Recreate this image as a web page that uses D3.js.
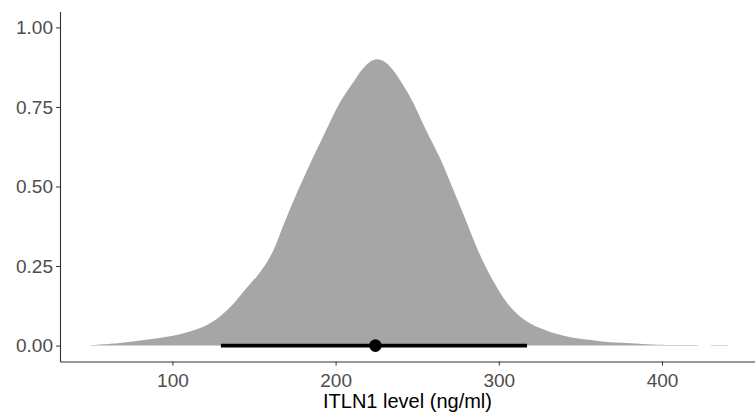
<!DOCTYPE html>
<html>
<head>
<meta charset="utf-8">
<script src="https://cdn.jsdelivr.net/npm/d3@7"></script>
<style>
  html, body { margin: 0; padding: 0; background: #fff; }
  svg { display: block; }
</style>
</head>
<body>
<svg id="chart" width="755" height="412"></svg>
<script>
// ---- data ----
const slabX = [49.4, 67.8, 86.2, 104.6, 116.9, 126.0, 135.2, 144.4, 153.6, 161.0, 168.9, 176.3, 184.2, 193.5, 202.7, 211.8, 216.0, 220.5, 225.3, 230.0, 234.5, 239.4, 247.4, 254.7, 263.9, 271.3, 279.3, 287.2, 295.8, 305.0, 314.2, 325.2, 340.5, 362.0, 386.5, 397.0, 422.0];
const slabY = [0.001, 0.008, 0.02, 0.036, 0.055, 0.08, 0.12, 0.175, 0.23, 0.29, 0.39, 0.48, 0.57, 0.67, 0.765, 0.835, 0.866, 0.89, 0.90, 0.892, 0.87, 0.835, 0.765, 0.685, 0.59, 0.50, 0.40, 0.30, 0.21, 0.135, 0.087, 0.055, 0.03, 0.014, 0.006, 0.003, 0.0015];
const tailX = [430.0, 440.5];
const tailY = [0.0015, 0.0015];
const pointEstimate = [224.4];
const intervalLow = [129.7];
const intervalHigh = [317.3];
const xTicks = [100, 200, 300, 400];
const yTicks = [0, 0.25, 0.5, 0.75, 1.0];
const xTitle = "ITLN1 level (ng/ml)";

// ---- layout ----
const svg = d3.select("#chart");
const mLeft = 60, mRight = 755, mTop = 11.5, mBottom = 361.5;

const x = d3.scaleLinear().domain([31.1, 457]).range([mLeft, mRight]);
const y = d3.scaleLinear().domain([-0.05, 1.05]).range([mBottom, mTop]);

const slabData = slabX.map((v, i) => [v, slabY[i]]);
const tailData = tailX.map((v, i) => [v, tailY[i]]);

const area = d3.area()
  .x(d => x(d[0]))
  .y0(y(0))
  .y1(d => y(d[1]))
  .curve(d3.curveCatmullRom.alpha(0.5));

svg.append("path").datum(slabData).attr("d", area).attr("fill", "#a6a6a6");
svg.append("path").datum(tailData).attr("d", area).attr("fill", "#a6a6a6");

// interval
svg.append("line")
  .attr("x1", x(intervalLow[0])).attr("x2", x(intervalHigh[0]))
  .attr("y1", y(0)).attr("y2", y(0))
  .attr("stroke", "#000").attr("stroke-width", 3.6);
svg.append("circle")
  .attr("cx", x(pointEstimate[0])).attr("cy", y(0)).attr("r", 6.3)
  .attr("fill", "#000");

// axes
const xAxis = d3.axisBottom(x).tickValues(xTicks).tickFormat(d3.format("d")).tickSize(4).tickSizeOuter(0);
const gx = svg.append("g").attr("transform", `translate(0,${mBottom})`).call(xAxis);
gx.select(".domain").attr("stroke", "#333").attr("stroke-width", 1.1);
gx.selectAll(".tick line").attr("stroke", "#333");
gx.selectAll(".tick text").attr("fill", "#4d4d4d").attr("font-family", "Liberation Sans, Arial, sans-serif").attr("font-size", "19px").attr("dy", "0.95em");

const yAxis = d3.axisLeft(y).tickValues(yTicks).tickFormat(d3.format(".2f")).tickSize(4).tickSizeOuter(0);
const gy = svg.append("g").attr("transform", `translate(${mLeft},0)`).call(yAxis);
gy.select(".domain").attr("stroke", "#333").attr("stroke-width", 1.1);
gy.selectAll(".tick line").attr("stroke", "#333");
gy.selectAll(".tick text").attr("fill", "#4d4d4d").attr("font-family", "Liberation Sans, Arial, sans-serif").attr("font-size", "19px").attr("x", -7);

// x title
svg.append("text")
  .attr("x", (mLeft + mRight) / 2).attr("y", 408)
  .attr("text-anchor", "middle")
  .attr("font-family", "Liberation Sans, Arial, sans-serif")
  .attr("font-size", "20px").attr("fill", "#000")
  .text(xTitle);
</script>
</body>
</html>
